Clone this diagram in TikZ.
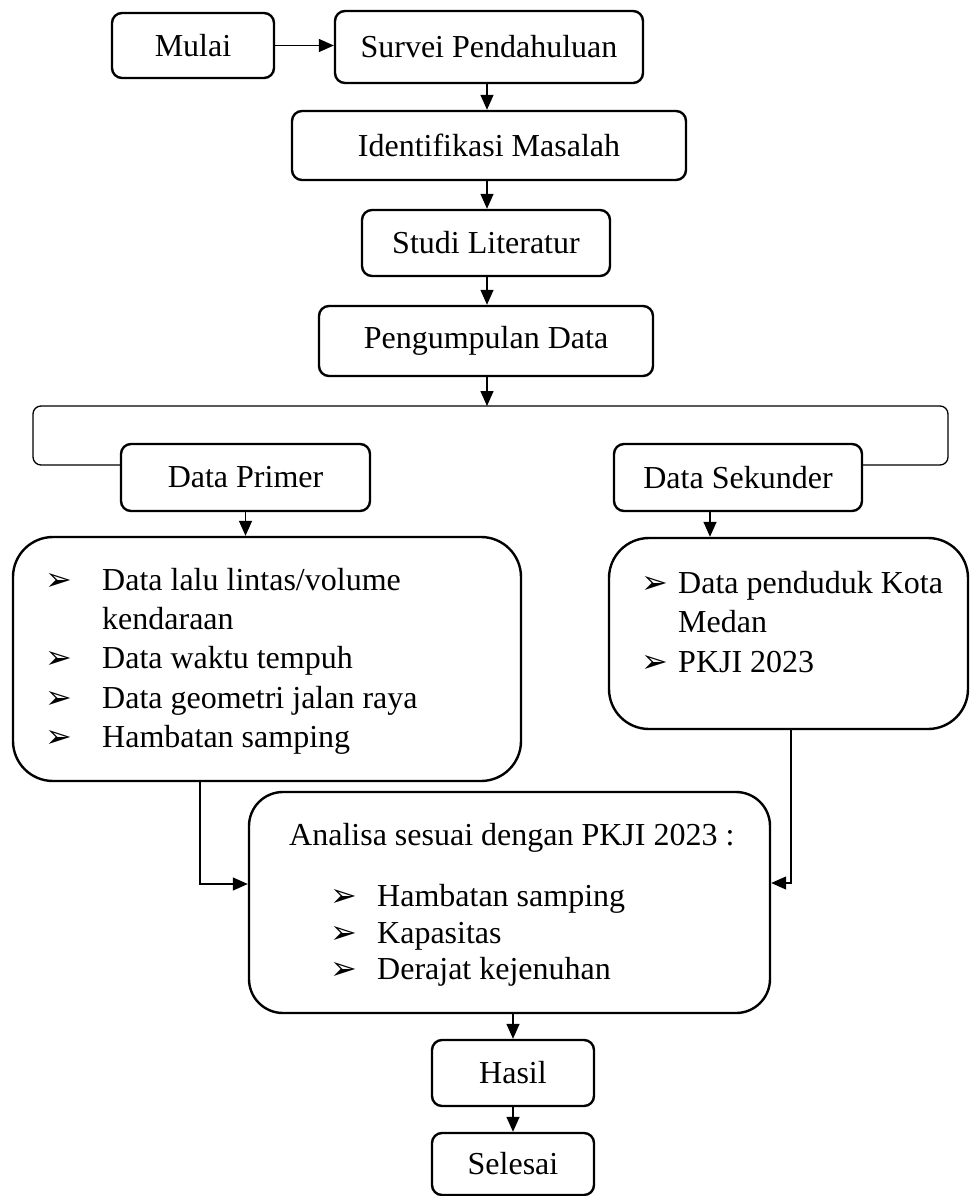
\documentclass[tikz,border=0pt]{standalone}
\usepackage{fontspec}
\setmainfont{Liberation Serif}
\newfontfamily\symfont{DejaVu Sans}
\usetikzlibrary{arrows.meta}
\begin{document}
\begin{tikzpicture}[x=1pt,y=-1pt,
  box/.style={draw, line width=2.4pt, rounded corners=10pt, inner sep=0pt, align=center, font=\fontsize{32}{38}\selectfont},
  big/.style={draw, line width=2.4pt, rounded corners=40pt, inner sep=0pt},
  conn/.style={line width=1.4pt, -{Triangle[length=15pt,width=13pt]}},
  txt/.style={anchor=base west, inner sep=0pt, font=\fontsize{32}{38}\selectfont},
  bul/.style={anchor=base west, inner sep=0pt, font=\symfont\fontsize{32}{36}\selectfont}]
\useasboundingbox (0,0) rectangle (971,1196);

% main column boxes
\node[box, minimum width=162, minimum height=65] (mulai) at (193,45.5) {Mulai};
\node[box, minimum width=308, minimum height=72] (survei) at (489,47) {Survei Pendahuluan};
\node[box, minimum width=394, minimum height=69] (ident) at (489,145.5) {Identifikasi Masalah};
\node[box, minimum width=248, minimum height=66] (studi) at (486,243) {Studi Literatur};
\node[box, minimum width=334, minimum height=70] (peng) at (486,341) {Pengumpulan Data};
\node[box, minimum width=249, minimum height=67] (dp) at (245.5,477.5) {Data Primer};
\node[box, minimum width=248, minimum height=67] (ds) at (738,477.5) {Data Sekunder};

% list boxes
\node[big, minimum width=508, minimum height=244] (plist) at (267,659) {};
\node[big, minimum width=359, minimum height=191] (slist) at (788.5,633.5) {};
\node[big, rounded corners=34pt, minimum width=521, minimum height=221] (ana) at (509.5,902.5) {};

\node[box, minimum width=162, minimum height=66] (hasil) at (513,1073) {Hasil};
\node[box, minimum width=162, minimum height=62] (selesai) at (513,1164) {Selesai};

% list texts: primer
\node[bul] (pb1) at (45,590) {➢};
\node[txt] (pt1) at (102,590) {Data lalu lintas/volume};
\node[txt] (pt1b) at (102,629) {kendaraan};
\node[bul] (pb2) at (45,668) {➢};
\node[txt] (pt2) at (102,668) {Data waktu tempuh};
\node[bul] (pb3) at (45,708) {➢};
\node[txt] (pt3) at (102,708) {Data geometri jalan raya};
\node[bul] (pb4) at (45,747) {➢};
\node[txt] (pt4) at (102,747) {Hambatan samping};

% list texts: sekunder
\node[bul] (sb1) at (641,593) {➢};
\node[txt] (st1) at (678,593) {Data penduduk Kota};
\node[txt] (st1b) at (678,632) {Medan};
\node[bul] (sb2) at (641,672) {➢};
\node[txt] (st2) at (678,672) {PKJI 2023};

% analisa texts
\node[txt] (at0) at (289,845) {Analisa sesuai dengan PKJI 2023 :};
\node[bul] (ab1) at (330,906) {➢};
\node[txt] (at1) at (377,906) {Hambatan samping};
\node[bul] (ab2) at (330,943) {➢};
\node[txt] (at2) at (377,943) {Kapasitas};
\node[bul] (ab3) at (330,979) {➢};
\node[txt] (at3) at (377,979) {Derajat kejenuhan};

% helper coordinates
\coordinate (colx) at (487,0);
\coordinate (brtop) at (487,406);
\coordinate (brL) at (33,465);
\coordinate (brLT) at (33,406);
\coordinate (brR) at (948,465);
\coordinate (brRT) at (948,406);
\coordinate (sx) at (710,0);
\coordinate (lx) at (200,884);
\coordinate (rx) at (791,883);

% connectors
\draw[conn] (mulai.east) -- (mulai.east -| survei.west);
\draw[conn] (colx |- survei.south) -- (colx |- ident.north);
\draw[conn] (colx |- ident.south) -- (colx |- studi.north);
\draw[conn] (colx |- studi.south) -- (colx |- peng.north);
\draw[conn] (colx |- peng.south) -- (brtop);
\draw[line width=1.3pt, rounded corners=8pt] (dp.west |- brL) -- (brL) -- (brLT) -- (brRT) -- (brR) -- (ds.east |- brR);
\draw[conn] (dp.south) -- (dp.south |- plist.north);
\draw[conn] (sx |- ds.south) -- (sx |- slist.north);
\draw[conn] (lx |- plist.south) -- (lx) -- (lx -| ana.west);
\draw[conn] (rx |- slist.south) -- (rx) -- (rx -| ana.east);
\draw[conn] (ana.south -| hasil.north) -- (hasil.north);
\draw[conn] (hasil.south) -- (selesai.north);
\end{tikzpicture}
\end{document}
